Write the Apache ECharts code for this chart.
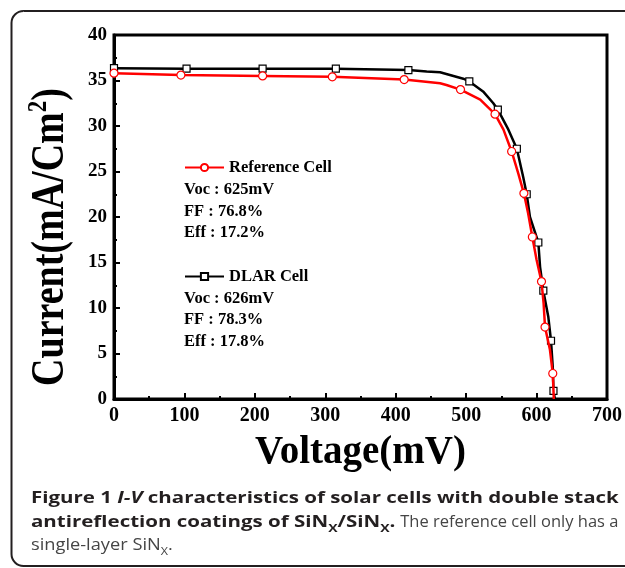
<!DOCTYPE html>
<html>
<head>
<meta charset="utf-8">
<script src="https://cdn.jsdelivr.net/npm/echarts@6/dist/echarts.min.js"></script>
<style>
html,body{margin:0;padding:0;background:#fff;}
#chart{width:625px;height:568px;}
</style>
</head>
<body>
<div id="chart"></div>
<script>
// ---- data ----
const refName = 'Reference Cell';
const dlarName = 'DLAR Cell';
const refV = [0, 95, 211, 310, 412, 463, 472, 492, 520, 541, 553, 564.6, 574, 582, 588, 594, 600, 607, 610, 612, 619, 623, 624.5];
const refI = [35.8, 35.6, 35.5, 35.4, 35.1, 34.7, 34.5, 34.0, 32.9, 31.3, 29.6, 27.2, 24.8, 22.6, 20.4, 17.8, 15.3, 12.9, 10.5, 7.9, 5.4, 2.8, 0];
const refMark = [1,1,1,1,1,0,0,1,0,1,0,1,0,1,0,1,0,1,0,1,0,1,0];
const dlarV = [0, 103, 211, 315, 418, 444, 463, 482, 496, 504.5, 524, 538.6, 545, 560, 572, 581, 586, 590.6, 602.5, 605, 609.6, 616.7, 620.5, 623, 624, 626];
const dlarI = [36.35, 36.3, 36.3, 36.3, 36.15, 36.0, 35.9, 35.5, 35.2, 34.9, 33.8, 32.5, 31.8, 29.6, 27.5, 24.4, 22.5, 20.0, 17.2, 14.5, 11.9, 9.0, 6.4, 3.5, 0.9, 0];
const dlarMark = [1,1,1,1,1,0,0,0,0,1,0,0,1,0,1,0,1,0,1,0,1,0,1,0,1,0];
const refStats = ['Voc : 625mV', 'FF : 76.8%', 'Eff : 17.2%'];
const dlarStats = ['Voc : 626mV', 'FF : 78.3%', 'Eff : 17.8%'];
const xMin = 0, xMax = 700, xStep = 100;
const yMin = 0, yMax = 40, yStep = 5;

const serif = '"Liberation Serif","Times New Roman",serif';

function build(V, I, M) {
  return V.map((v, k) => M[k] ? [v, I[k]] : {value: [v, I[k]], symbol: 'none'});
}

const chart = echarts.init(document.getElementById('chart'), null, {renderer: 'canvas'});

const statText = (lines, y0) => lines.map((t, k) => ({
  type: 'text', x: 184, y: y0 + k * 21.5,
  style: {text: t, font: 'bold 16.5px ' + serif, fill: '#000', verticalAlign: 'middle', align: 'left'}
}));

const axisCommon = {
  axisLine: {show: true, lineStyle: {color: '#000', width: 3}},
  axisTick: {show: true, inside: true, length: 6, lineStyle: {color: '#000', width: 2}},
  minorTick: {show: true, splitNumber: 2, length: 3, lineStyle: {color: '#000', width: 2}},
  splitLine: {show: false}
};

const capB = {fontFamily: '"Open Sans"', fontWeight: 'bold', fontSize: 16, fill: '#231f20', lineHeight: 23.5};
const capBS = {fontFamily: '"Open Sans"', fontWeight: 'bold', fontSize: 11, fill: '#231f20', lineHeight: 14, verticalAlign: 'bottom'};
const capR = {fontFamily: '"Open Sans"', fontSize: 16, fill: '#454545', lineHeight: 23.5};
const capRS = {fontFamily: '"Open Sans"', fontSize: 11, fill: '#454545', lineHeight: 14, verticalAlign: 'bottom'};

chart.setOption({
  animation: false,
  backgroundColor: '#fff',
  grid: {left: 114, top: 35, right: 18, bottom: 169, show: true, borderColor: '#000', borderWidth: 3, backgroundColor: 'transparent'},
  xAxis: Object.assign({
    type: 'value', min: xMin, max: xMax, interval: xStep,
    name: 'Voltage(mV)', nameLocation: 'middle', nameGap: 34,
    nameTextStyle: {fontFamily: serif, fontWeight: 'bold', fontSize: 39, color: '#000'},
    axisLabel: {fontFamily: serif, fontWeight: 'bold', fontSize: 20, color: '#000', margin: 7}
  }, axisCommon),
  yAxis: Object.assign({
    type: 'value', min: yMin, max: yMax, interval: yStep,
    axisLabel: {fontFamily: serif, fontWeight: 'bold', fontSize: 19, color: '#000', margin: 7}
  }, axisCommon),
  legend: [
    {data: [refName], left: 184, top: 159, itemWidth: 39, itemHeight: 9, selectedMode: false, padding: 0,
     textStyle: {fontFamily: serif, fontWeight: 'bold', fontSize: 16.5, color: '#000', padding: [0,0,0,0]}},
    {data: [dlarName], left: 184, top: 268, itemWidth: 39, itemHeight: 9, selectedMode: false, padding: 0,
     textStyle: {fontFamily: serif, fontWeight: 'bold', fontSize: 16.5, color: '#000', padding: [0,0,0,0]}}
  ],
  series: [
    {name: dlarName, type: 'line', data: build(dlarV, dlarI, dlarMark),
     symbol: 'rect', symbolSize: 7, showAllSymbol: true,
     lineStyle: {color: '#000', width: 2.5},
     itemStyle: {color: '#fff', borderColor: '#000', borderWidth: 1.2}, z: 2},
    {name: refName, type: 'line', data: build(refV, refI, refMark),
     symbol: 'circle', symbolSize: 8, showAllSymbol: true,
     lineStyle: {color: '#ff0000', width: 2.5},
     itemStyle: {color: '#fff', borderColor: '#ff0000', borderWidth: 1.2}, z: 3}
  ],
  graphic: [
    {type: 'rect', shape: {x: 11.5, y: 11, width: 640, height: 555, r: 12},
     style: {fill: 'none', stroke: '#231f20', lineWidth: 2}, silent: true},
    {type: 'text', x: 51, y: 237, rotation: Math.PI / 2, scaleY: 1.2,
     style: {text: '{m|Current(mA/Cm}{s|2}{m|)}', align: 'center', verticalAlign: 'middle',
       rich: {m: {font: 'bold 38px ' + serif, fill: '#000', lineHeight: 44},
              s: {font: 'bold 23px ' + serif, fill: '#000', verticalAlign: 'top', lineHeight: 22}}}},
    ...statText(refStats, 190),
    ...statText(dlarStats, 298.5),
    {type: 'text', x: 31, y: 487, scaleX: 1.28,
     style: {
       text: '{b|Figure 1 }{bi|I-V}{b| characteristics of solar cells with double stack}\n' +
             '{b|antireflection coatings of SiN}{bs|X}{b|/SiN}{bs|X}{b|.}',
       x: 0, y: 0, align: 'left', verticalAlign: 'top',
       rich: {b: capB, bi: Object.assign({}, capB, {fontStyle: 'italic'}), bs: capBS}
     }},
    {type: 'text', x: 396, y: 510.5, scaleX: 1.03,
     style: {text: '{r| The reference cell only has a}', x: 0, y: 0, align: 'left', verticalAlign: 'top',
       rich: {r: capR}}},
    {type: 'text', x: 31, y: 534, scaleX: 1.14,
     style: {text: '{r|single-layer SiN}{rs|X}{r|.}', x: 0, y: 0, align: 'left', verticalAlign: 'top',
       rich: {r: capR, rs: capRS}}}
  ]
});
</script>
</body>
</html>
